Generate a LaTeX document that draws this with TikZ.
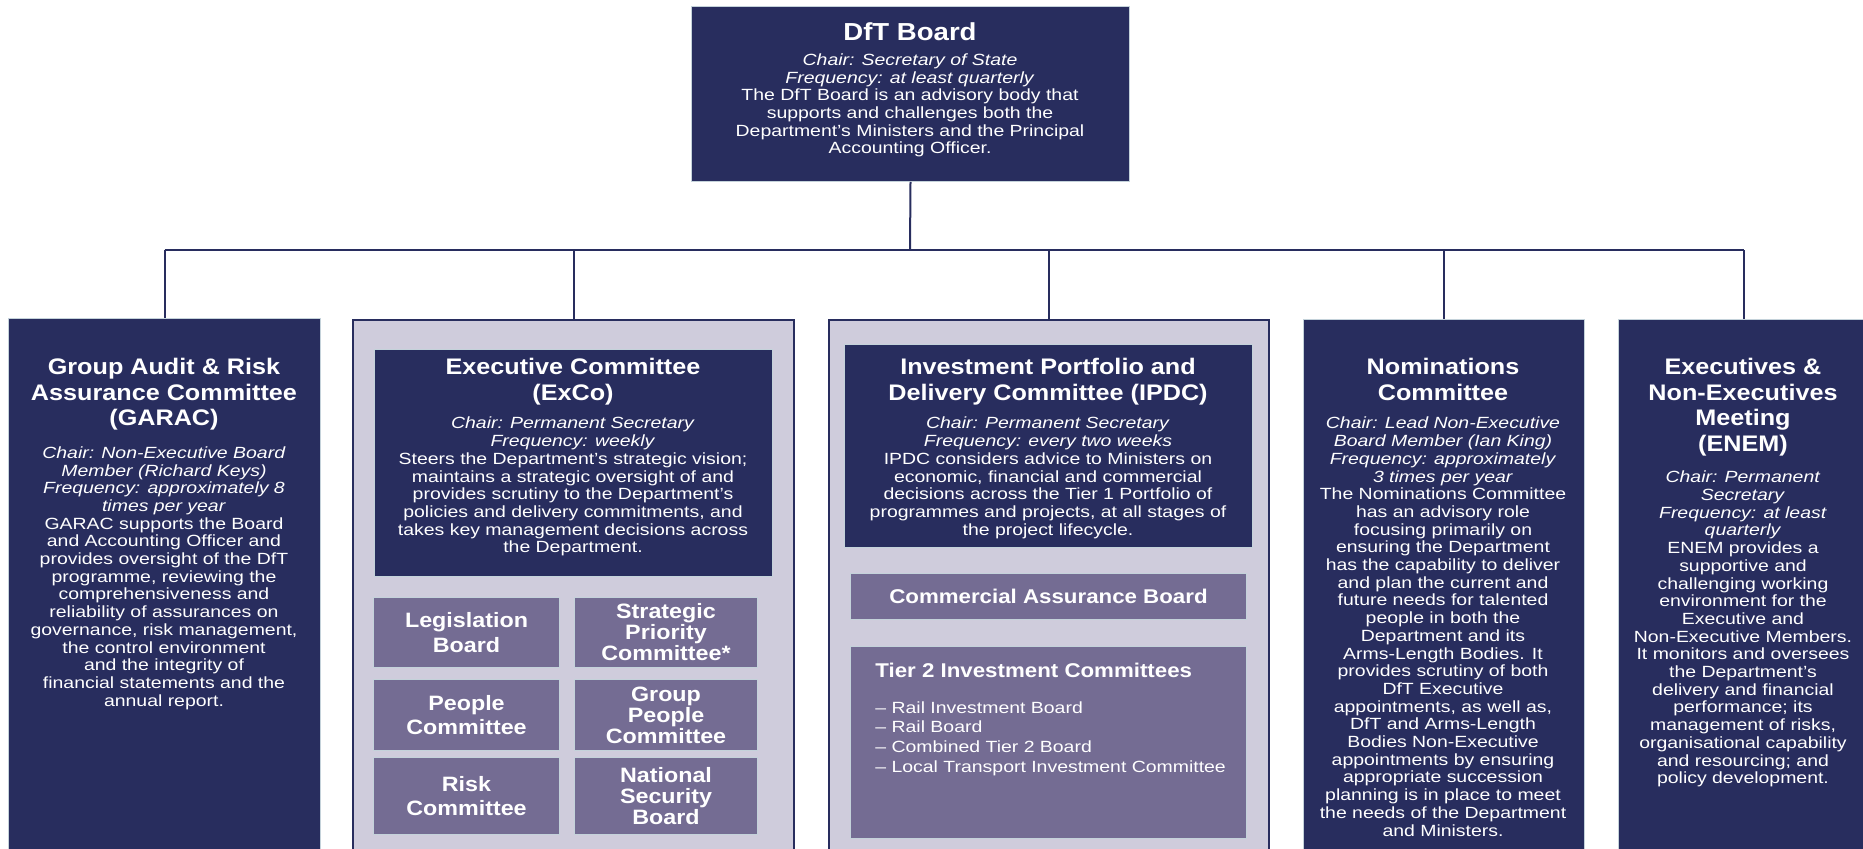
\documentclass[tikz,border=0pt]{standalone}
\usepackage{fontspec}
\setmainfont[FakeStretch=1.2]{Liberation Sans}
\newfontfamily\headfont[FakeStretch=1.12]{Liberation Sans}
\usepackage{tikz}

\definecolor{navy}{RGB}{40,45,94}
\definecolor{lavender}{RGB}{207,204,220}
\definecolor{mauve}{RGB}{116,108,147}
\definecolor{edge}{RGB}{196,210,218}

\begin{document}
\begin{tikzpicture}[x=0.5pt,y=-0.5pt]
		\tikzstyle {darkbox} = [draw=edge, line width=0.5pt, fill=navy, anchor=north west, inner sep=0pt]
		\tikzstyle {groupbox} = [draw=navy, line width=1.2pt, fill=lavender, anchor=north west, inner sep=0pt]
		\tikzstyle {subbox} = [draw=edge, line width=0.5pt, fill=mauve, anchor=north west, inner sep=0pt, text=white, align=center, font=\headfont\bfseries\fontsize{10.4}{12.35}\selectfont]
		\tikzstyle {subbox three} = [subbox, font=\headfont\bfseries\fontsize{10.4}{10.5}\selectfont]
		\tikzstyle {head} = [anchor=north, inner sep=0pt, text=white, align=center, font=\headfont\bfseries\fontsize{11.25}{12.9}\selectfont]
		\tikzstyle {body} = [anchor=north, inner sep=0pt, text=white, align=center, font=\fontsize{8.1}{8.85}\selectfont]
		\tikzstyle {link} = [draw=navy, line width=1pt]

		\useasboundingbox (0,0) rectangle (1863,849);

		% top board
		\node[darkbox, minimum width=219pt, minimum height=87.5pt] (board) at (691,6) {};
		\node[head, font=\headfont\bfseries\fontsize{12.3}{14}\selectfont] (boardhead) at (910,22) {DfT Board};
		\node[body] (boardtext) at (910,53.2) {\textit{Chair: Secretary of State}\\\textit{Frequency: at least quarterly}\\The DfT Board is an advisory body that\\supports and challenges both the\\Department's Ministers and the Principal\\Accounting Officer.};

		% committees
		\node[darkbox, minimum width=156pt, minimum height=277pt] (garac) at (8,317.6) {};
		\node[groupbox, minimum width=220.5pt, minimum height=276pt] (exco) at (352,319) {};
		\node[groupbox, minimum width=220pt, minimum height=276pt] (ipdc) at (828,319) {};
		\node[darkbox, minimum width=140.5pt, minimum height=276pt] (nom) at (1303,319) {};
		\node[darkbox, minimum width=125pt, minimum height=276pt] (enem) at (1618,319) {};

		\coordinate (bus) at (910,250);
		\draw[link] (board.south) -- (bus);
		\draw[link] (garac.north |- bus) -- (enem.north |- bus);
		\foreach \n in {garac,exco,ipdc,nom,enem}
			\draw[link] (\n.north) -- (\n.north |- bus);

		% GARAC
		\node[head] (garachead) at (164,357.6) {Group Audit \& Risk\\Assurance Committee\\(GARAC)};
		\node[body] (garactext) at (164,446.2) {\textit{Chair: Non-Executive Board}\\\textit{Member (Richard Keys)}\\\textit{Frequency: approximately 8}\\\textit{times per year}\\GARAC supports the Board\\and Accounting Officer and\\provides oversight of the DfT\\programme, reviewing the\\comprehensiveness and\\reliability of assurances on\\governance, risk management,\\the control environment\\and the integrity of\\financial statements and the\\annual report.};

		% ExCo
		\node[darkbox, minimum width=199pt, minimum height=113.25pt] (excoin) at (374,349.5) {};
		\node[head] (excohead) at (573,357.6) {Executive Committee\\(ExCo)};
		\node[body] (excotext) at (573,416.8) {\textit{Chair: Permanent Secretary}\\\textit{Frequency: weekly}\\Steers the Department's strategic vision;\\maintains a strategic oversight of and\\provides scrutiny to the Department's\\policies and delivery commitments, and\\takes key management decisions across\\the Department.};
		\node[subbox, minimum width=93pt, minimum height=35pt] (legis) at (373,597) {Legislation\\Board};
		\node[subbox three, minimum width=91.5pt, minimum height=35pt] (strat) at (574,597) {Strategic\\Priority\\Committee*};
		\node[subbox, minimum width=93pt, minimum height=35.5pt] (people) at (373,679) {People\\Committee};
		\node[subbox three, minimum width=91.5pt, minimum height=35.5pt] (gpeople) at (574,679) {Group\\People\\Committee};
		\node[subbox, minimum width=93pt, minimum height=38.5pt] (risk) at (373,757) {Risk\\Committee};
		\node[subbox three, minimum width=91.5pt, minimum height=38.5pt] (natsec) at (574,757) {National\\Security\\Board};

		% IPDC
		\node[darkbox, minimum width=204pt, minimum height=101.5pt] (ipdcin) at (844,343.7) {};
		\node[head] (ipdchead) at (1048,357.6) {Investment Portfolio and\\Delivery Committee (IPDC)};
		\node[body] (ipdctext) at (1048,416.8) {\textit{Chair: Permanent Secretary}\\\textit{Frequency: every two weeks}\\IPDC considers advice to Ministers on\\economic, financial and commercial\\decisions across the Tier 1 Portfolio of\\programmes and projects, at all stages of\\the project lifecycle.};
		\node[subbox, font=\headfont\bfseries\fontsize{9.95}{11}\selectfont, minimum width=198pt, minimum height=23.3pt] (cab) at (850,572.7) {Commercial Assurance Board};
		\node[subbox, minimum width=198pt, minimum height=96pt] (tier) at (850,645.7) {};
		\node[head, anchor=north west, align=left, font=\headfont\bfseries\fontsize{9.95}{11}\selectfont] (tierhead) at (875,663) {Tier 2 Investment Committees};
		\node[body, anchor=north west, align=left, font=\fontsize{8.1}{9.85}\selectfont] (tierlist) at (875,701) {– Rail Investment Board\\– Rail Board\\– Combined Tier 2 Board\\– Local Transport Investment Committee};

		% Nominations
		\node[head] (nomhead) at (1443,357.6) {Nominations\\Committee};
		\node[body] (nomtext) at (1443,416.8) {\textit{Chair: Lead Non-Executive}\\\textit{Board Member (Ian King)}\\\textit{Frequency: approximately}\\\textit{3 times per year}\\The Nominations Committee\\has an advisory role\\focusing primarily on\\ensuring the Department\\has the capability to deliver\\and plan the current and\\future needs for talented\\people in both the\\Department and its\\Arms-Length Bodies. It\\provides scrutiny of both\\DfT Executive\\appointments, as well as,\\DfT and Arms-Length\\Bodies Non-Executive\\appointments by ensuring\\appropriate succession\\planning is in place to meet\\the needs of the Department\\and Ministers.};

		% ENEM
		\node[head] (enemhead) at (1743,357.6) {Executives \&\\Non-Executives\\Meeting\\(ENEM)};
		\node[body] (enemtext) at (1743,470.7) {\textit{Chair: Permanent}\\\textit{Secretary}\\\textit{Frequency: at least}\\\textit{quarterly}\\ENEM provides a\\supportive and\\challenging working\\environment for the\\Executive and\\Non-Executive Members.\\It monitors and oversees\\the Department's\\delivery and financial\\performance; its\\management of risks,\\organisational capability\\and resourcing; and\\policy development.};
	\end{tikzpicture}
\end{document}
